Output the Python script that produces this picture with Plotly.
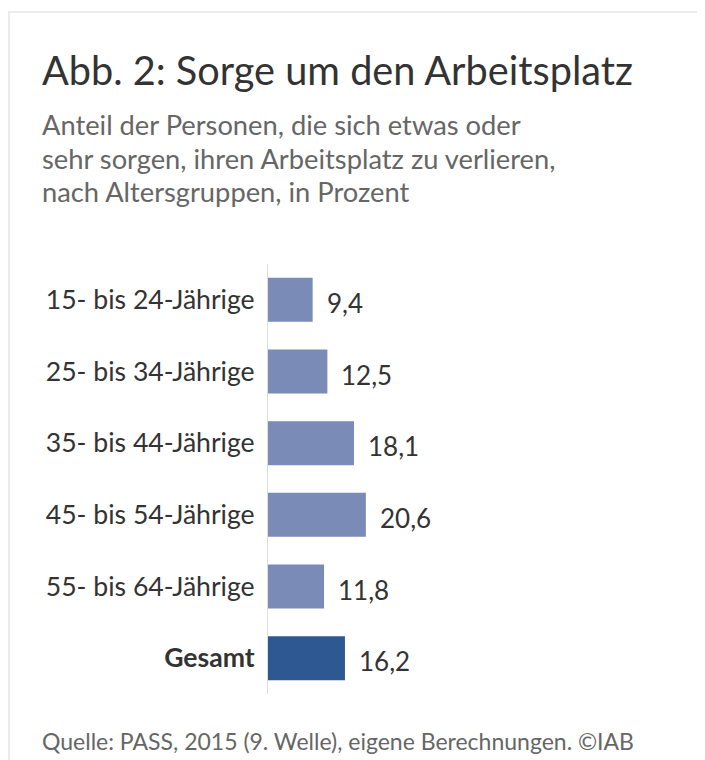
import plotly.graph_objects as go

categories = ["15- bis 24-Jährige", "25- bis 34-Jährige", "35- bis 44-Jährige",
              "45- bis 54-Jährige", "55- bis 64-Jährige", "Gesamt"]
tick_labels = ["15- bis 24-Jährige", "25- bis 34-Jährige", "35- bis 44-Jährige",
               "45- bis 54-Jährige", "55- bis 64-Jährige", "<b>Gesamt</b>"]
values = [9.4, 12.5, 18.1, 20.6, 11.8, 16.2]
bar_colors = ["#7a8bb8", "#7a8bb8", "#7a8bb8", "#7a8bb8", "#7a8bb8", "#2e5892"]

title = "Abb. 2: Sorge um den Arbeitsplatz"
subtitle_lines = ["Anteil der Personen, die sich etwas oder",
                  "sehr sorgen, ihren Arbeitsplatz zu verlieren,",
                  "nach Altersgruppen, in Prozent"]
source = "Quelle: PASS, 2015 (9. Welle), eigene Berechnungen. ©IAB"

FONT = "Lato"
OFF = 8  # page body margin
W, H = 705, 760
L, T = 268 - OFF, 264 - OFF
PW, PH = 380, 430
R, B = W - L - PW, H - T - PH


def px_x(x):
    return (x - OFF - L) / PW


def px_y(y):
    return (T + PH - (y - OFF)) / PH


fig = go.Figure()
fig.add_trace(go.Bar(
    x=values, y=categories, orientation="h",
    marker=dict(color=bar_colors, line=dict(width=0)),
    hoverinfo="skip",
))

annotations = []
for c, v in zip(categories, values):
    annotations.append(dict(
        x=v, y=c, xref="x", yref="y", text=f"{v:.1f}".replace(".", ","),
        showarrow=False, xanchor="left", yanchor="middle", xshift=12, yshift=-3,
        font=dict(family=FONT, size=26, color="#333333"),
    ))

annotations.append(dict(
    x=px_x(40), y=px_y(70), xref="paper", yref="paper", text=title,
    showarrow=False, xanchor="left", yanchor="middle",
    font=dict(family=FONT, size=39.7, color="#333333"),
))
for i, line in enumerate(subtitle_lines):
    annotations.append(dict(
        x=px_x(40), y=px_y(125 + 33 * i), xref="paper", yref="paper", text=line,
        showarrow=False, xanchor="left", yanchor="middle",
        font=dict(family=FONT, size=27.3, color="#666666"),
    ))
annotations.append(dict(
    x=px_x(40), y=px_y(741), xref="paper", yref="paper", text=source,
    showarrow=False, xanchor="left", yanchor="middle",
    font=dict(family=FONT, size=23, color="#666666"),
))

fig.update_layout(
    width=W, height=H,
    margin=dict(l=L, r=R, t=T, b=B, autoexpand=False),
    paper_bgcolor="white", plot_bgcolor="white",
    showlegend=False, bargap=0.385,
    annotations=annotations,
    shapes=[dict(type="rect", xref="paper", yref="paper",
                 x0=px_x(9), x1=px_x(800), y0=px_y(900), y1=px_y(12),
                 line=dict(color="#ebebeb", width=2), layer="below")],
    xaxis=dict(range=[0, PW / 4.75], visible=False, fixedrange=True),
    yaxis=dict(
        autorange="reversed", tickmode="array", tickvals=categories, ticktext=tick_labels,
        showline=True, linecolor="#dddddd", linewidth=1, ticks="",
        showgrid=False, zeroline=False, ticklabelstandoff=7,
        tickfont=dict(family=FONT, size=26.6, color="#333333"),
    ),
)

fig.write_html("out.html")
